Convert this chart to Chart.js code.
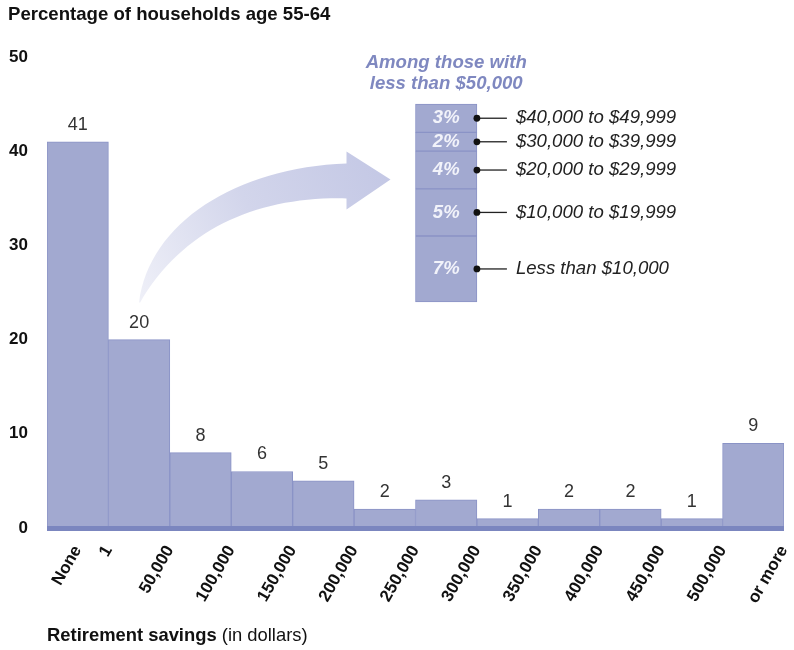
<!DOCTYPE html>
<html>
<head>
<meta charset="utf-8">
<script src="https://cdn.jsdelivr.net/npm/chart.js@4.4.0/dist/chart.umd.min.js"></script>
<style>
  html, body { margin: 0; padding: 0; background: #ffffff; }
  #wrap { width: 794px; height: 650px; position: relative; }
</style>
</head>
<body>
<div id="wrap"><canvas id="c" width="794" height="650"></canvas></div>
<script>
// ---------- data ----------
const categories = ["None", "1–49,999", "50,000–99,999", "100,000–149,999", "150,000–199,999",
  "200,000–249,999", "250,000–299,999", "300,000–349,999", "350,000–399,999",
  "400,000–449,999", "450,000–499,999", "500,000 or more"];
const shares = [41, 20, 8, 6, 5, 2, 3, 1, 2, 2, 1, 9];
const tickLabels = ["None", "1", "50,000", "100,000", "150,000", "200,000", "250,000",
  "300,000", "350,000", "400,000", "450,000", "500,000", "or more"];
const yTicks = [0, 10, 20, 30, 40, 50];
const insetLabels = ["Less than $10,000", "$10,000 to $19,999", "$20,000 to $29,999",
  "$30,000 to $39,999", "$40,000 to $49,999"];
const insetShares = [7, 5, 4, 2, 3];
const titleText = "Percentage of households age 55-64";
const insetTitle = ["Among those with", "less than $50,000"];
const xTitleBold = "Retirement savings";
const xTitleRest = " (in dollars)";

// ---------- layout constants ----------
const INSET_BIN = 6;    // bin above which the breakdown column floats
const INSET_BASE = 24;  // value where the breakdown column starts
const ARROW_TIP_VALUE = 37;
const FILL = "#a2a9d0";
const EDGE = "#8a93c6";
const BASE = "#7b86bf";
const FONT = '"Liberation Sans", Arial, Helvetica, sans-serif';

// tick positions: "None" at the first bin centre, others at bin edges
const tickPositions = tickLabels.map((_, i) => i === 0 ? 0 : i - 0.5);

const insetRanges = [];
let acc = INSET_BASE;
insetShares.forEach(v => { insetRanges.push([acc, acc + v]); acc += v; });

const mainDataset = {
  label: "Share",
  data: shares,
  backgroundColor: FILL,
  borderColor: EDGE,
  borderWidth: 1,
  grouped: false,
  barPercentage: 1,
  categoryPercentage: 1
};
const insetDatasets = insetShares.map((v, k) => ({
  label: insetLabels[k],
  data: categories.map((_, i) => i === INSET_BIN ? insetRanges[k] : null),
  backgroundColor: FILL,
  borderColor: EDGE,
  borderWidth: 1,
  borderSkipped: false,
  grouped: false,
  barPercentage: 1,
  categoryPercentage: 1
}));

const annot = {
  id: "annot",
  beforeDatasetsDraw(chart) {
    const ctx = chart.ctx;
    const y = chart.scales.y;
    const bar1 = chart.getDatasetMeta(0).data[1];
    const inset = chart.getDatasetMeta(1).data[INSET_BIN];
    const T = { x: bar1.x, y: bar1.y - 37 };
    const H = { x: inset.x - inset.width / 2 - 25, y: y.getPixelForValue(ARROW_TIP_VALUE) };
    const hb = H.x - 44;
    ctx.save();
    const g = ctx.createLinearGradient(T.x, T.y, H.x, H.y);
    g.addColorStop(0, "#eff0f8");
    g.addColorStop(0.5, "#d2d5eb");
    g.addColorStop(1, "#c4c8e5");
    ctx.fillStyle = g;
    ctx.beginPath();
    ctx.moveTo(T.x, T.y);
    ctx.bezierCurveTo(T.x + 10, T.y - 80, hb - 110, H.y - 12, hb, H.y - 16);
    ctx.lineTo(hb, H.y - 28);
    ctx.lineTo(H.x, H.y);
    ctx.lineTo(hb, H.y + 30);
    ctx.lineTo(hb, H.y + 19);
    ctx.bezierCurveTo(hb - 88, H.y + 17, T.x + 45, T.y - 75, T.x + 1, T.y);
    ctx.closePath();
    ctx.fill();
    ctx.restore();
  },
  afterDatasetsDraw(chart) {
    const ctx = chart.ctx;
    const area = chart.chartArea;
    const y0 = chart.scales.y.getPixelForValue(0);
    ctx.save();
    // baseline band
    ctx.fillStyle = BASE;
    ctx.fillRect(area.left, y0 - 2, area.right - area.left, 5);
    // value labels above main bars
    ctx.font = "18px " + FONT;
    ctx.fillStyle = "#333333";
    ctx.textAlign = "center";
    ctx.textBaseline = "middle";
    chart.getDatasetMeta(0).data.forEach((el, i) => {
      ctx.fillText(String(shares[i]), el.x, el.y - 17);
    });
    // inset segment labels
    let topEl = null;
    insetShares.forEach((v, k) => {
      const el = chart.getDatasetMeta(k + 1).data[INSET_BIN];
      topEl = el;
      const cy = (el.y + el.base) / 2;
      ctx.font = "italic bold 18.5px " + FONT;
      ctx.fillStyle = "#f2f3fa";
      ctx.textAlign = "center";
      ctx.fillText(v + "%", el.x, cy);
      const rx = el.x + el.width / 2;
      ctx.strokeStyle = "#222222";
      ctx.lineWidth = 1.3;
      ctx.beginPath();
      ctx.moveTo(rx, cy);
      ctx.lineTo(rx + 30, cy);
      ctx.stroke();
      ctx.fillStyle = "#111111";
      ctx.beginPath();
      ctx.arc(rx, cy, 3.4, 0, Math.PI * 2);
      ctx.fill();
      ctx.font = "italic 18.6px " + FONT;
      ctx.fillStyle = "#222222";
      ctx.textAlign = "left";
      ctx.fillText(insetLabels[k], rx + 39, cy);
    });
    // inset title
    ctx.font = "italic bold 18.6px " + FONT;
    ctx.fillStyle = "#7f88c0";
    ctx.textAlign = "center";
    ctx.fillText(insetTitle[0], topEl.x, topEl.y - 41);
    ctx.fillText(insetTitle[1], topEl.x, topEl.y - 20);
    ctx.restore();
  },
  afterDraw(chart) {
    const ctx = chart.ctx;
    ctx.save();
    ctx.textBaseline = "middle";
    ctx.textAlign = "left";
    ctx.fillStyle = "#111111";
    ctx.font = "bold 18.6px " + FONT;
    ctx.fillText(titleText, 8, 15);
    const ax = chart.chartArea.left;
    ctx.font = "bold 18.4px " + FONT;
    ctx.fillText(xTitleBold, ax, 636);
    const w = ctx.measureText(xTitleBold).width;
    ctx.font = "18.4px " + FONT;
    ctx.fillText(xTitleRest, ax + w, 636);
    ctx.restore();
  }
};

new Chart(document.getElementById("c"), {
  type: "bar",
  data: { labels: categories, datasets: [mainDataset, ...insetDatasets] },
  options: {
    responsive: false,
    animation: false,
    devicePixelRatio: 1,
    layout: { padding: { top: 57, right: 10, bottom: 0, left: 0 } },
    plugins: { legend: { display: false }, tooltip: { enabled: false }, title: { display: false } },
    scales: {
      x: { type: "category", display: false, offset: true },
      x2: {
        type: "linear",
        position: "bottom",
        offset: false,
        min: -0.5,
        max: categories.length - 0.5,
        z: 1,
        grid: { display: false, drawTicks: false },
        border: { display: false },
        afterBuildTicks: (s) => { s.ticks = tickPositions.map(v => ({ value: v })); },
        afterFit: (s) => { s.height = 122; s.paddingLeft = 0; s.paddingRight = 0; },
        ticks: {
          autoSkip: false,
          maxRotation: 60,
          minRotation: 60,
          padding: 14,
          color: "#111111",
          font: { family: FONT, size: 17, weight: "bold" },
          callback: (v, i) => tickLabels[i]
        }
      },
      y: {
        min: 0,
        max: 50,
        grid: { display: false, drawTicks: false },
        border: { display: false },
        afterBuildTicks: (s) => { s.ticks = yTicks.map(v => ({ value: v })); },
        afterFit: (s) => { s.width = 47; s.paddingTop = 0; s.paddingBottom = 0; },
        ticks: {
          padding: 19,
          color: "#111111",
          font: { family: FONT, size: 17, weight: "bold" }
        }
      }
    }
  },
  plugins: [annot]
});
</script>
</body>
</html>
